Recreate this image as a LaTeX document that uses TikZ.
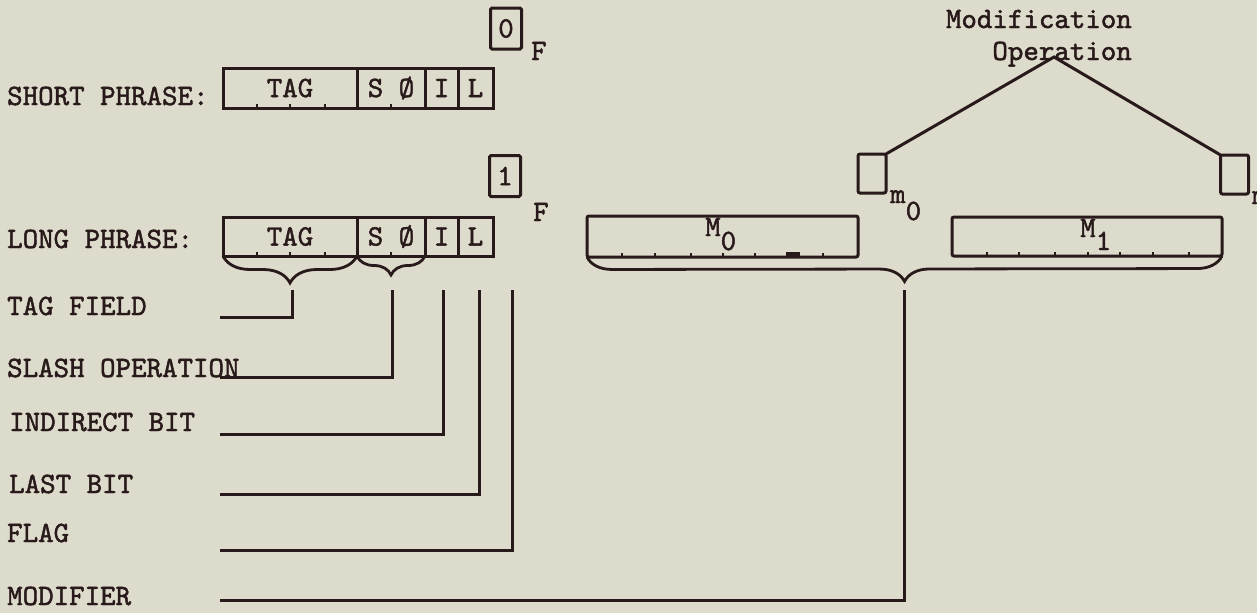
\documentclass[tikz,border=0pt]{standalone}
\usepackage{fontspec}
\usepackage{xcolor}
\usepackage{tikz}
\usetikzlibrary{positioning, decorations.pathreplacing}
\definecolor{paper}{RGB}{221,219,203}
\definecolor{ink}{RGB}{40,26,26}
\newfontfamily\twface{lmmono10-regular.otf}[FakeBold=1.6]
\newcommand{\twfont}{\fontsize{29.5}{32}\selectfont\twface}
\tikzset{
  field/.style={draw=ink, line width=3pt, minimum height=40pt, inner sep=0pt,
                outer sep=0pt, font=\twfont, text=ink},
  flagbox/.style={field, minimum width=31pt, minimum height=41pt, rounded corners=1.5pt},
  regbox/.style={field, minimum height=40pt, rounded corners=2pt},
  modbox/.style={field, minimum width=28pt, minimum height=39pt, rounded corners=2pt},
  rowlabel/.style={anchor=base west, inner sep=0pt, font=\twfont, text=ink},
  leader/.style={draw=ink, line width=3pt},
  fieldbrace/.style={draw=ink, line width=2.8pt, decorate,
                     decoration={brace, mirror, amplitude=#1}},
  tick/.style={draw=ink, line width=1.8pt}
}
\begin{document}
\begin{tikzpicture}[x=1pt, y=-1pt]
\useasboundingbox (0,0) rectangle (1257,613);
\fill[paper] (0,0) rectangle (1257,613);

% Short phrase
\node[rowlabel] (shortlab) at (7,105) {SHORT PHRASE:};
\node[field, minimum width=134pt, anchor=west] (stag) at (223,88) {TAG};
\node[field, minimum width=68pt, right=0pt of stag] (sslash) {S Ø};
\node[field, minimum width=33pt, right=0pt of sslash] (sind) {I};
\node[field, minimum width=35pt, right=0pt of sind] (slast) {L};
\node[flagbox] (sflag) at (506,28.5) {0};
\node[rowlabel] (sflagF) at (531,60) {F};
\foreach \tx in {257,290,325,391} \draw[tick] (\tx,108) -- ++(0,-4);

% Long phrase
\node[rowlabel] (longlab) at (7,248) {LONG PHRASE:};
\node[field, minimum width=134pt, minimum height=39pt, anchor=west] (ltag) at (223,236.5) {TAG};
\node[field, minimum width=68pt, minimum height=39pt, right=0pt of ltag] (lslash) {S Ø};
\node[field, minimum width=33pt, minimum height=39pt, right=0pt of lslash] (lind) {I};
\node[field, minimum width=35pt, minimum height=39pt, right=0pt of lind] (llast) {L};
\node[flagbox] (lflag) at (505,176) {1};
\node[rowlabel] (lflagF) at (533,221) {F};
\foreach \tx in {257,290,325,391} \draw[tick] (\tx,256) -- ++(0,-4);

% Modifier registers
\node[regbox, minimum width=271pt, minimum height=41pt] (mzeroreg) at (722.5,236.5) {};
\node[regbox, minimum width=270pt, minimum height=39pt] (monereg) at (1087,236.5) {};
\node[rowlabel] (mzerotext) at (705,236) {M\raisebox{-14pt}{0}};
\node[rowlabel] (monetext) at (1080,237) {M\raisebox{-13pt}{1}};
\foreach \tx in {622,655,691,723,755,823} \draw[tick] (\tx,257) -- ++(0,-4);
\fill[ink] (786,257) rectangle (800,252);
\foreach \tx in {987,1019,1055,1088,1120,1153,1189} \draw[tick] (\tx,256) -- ++(0,-4);

% Modification operation
\node[rowlabel, anchor=base east] (modline) at (1132,28) {Modification};
\node[rowlabel, anchor=base east] (opline) at (1132,60) {Operation};
\coordinate (apex) at (1054,57);
\node[modbox] (mzero) at (872,173.5) {};
\node[modbox] (mone) at (1234.5,174.5) {};
\node[rowlabel] (mzerosub) at (890,203) {m\raisebox{-17pt}{0}};
\node[rowlabel] (monesub) at (1252,204) {m\raisebox{-17pt}{1}};
\draw[leader] (mzero.north east) -- (apex) -- (mone.north west);

% Braces
\draw[fieldbrace=27pt] (ltag.south west) -- (ltag.south east);
\draw[fieldbrace=19pt] (lslash.south west) -- (lslash.south east);
\draw[fieldbrace=25pt] (mzeroreg.south west) -- (monereg.south east);

% Field names
\node[rowlabel] (tagfield) at (7,315) {TAG FIELD};
\node[rowlabel] (slashop) at (7,377) {SLASH OPERATION};
\node[rowlabel] (indbit) at (9,431) {INDIRECT BIT};
\node[rowlabel] (lastbit) at (9,493) {LAST BIT};
\node[rowlabel] (flagname) at (7,542) {FLAG};
\node[rowlabel] (modname) at (7,605) {MODIFIER};

% Leaders
\coordinate (tagtop) at (292,290);   \coordinate (tagend) at (220,317);
\coordinate (slashtop) at (392,290); \coordinate (slashend) at (220,377);
\coordinate (indtop) at (443,290);   \coordinate (indend) at (220,434);
\coordinate (lasttop) at (479,290);  \coordinate (lastend) at (220,494);
\coordinate (flagtop) at (512,290);  \coordinate (flagend) at (220,550);
\coordinate (modtop) at (904,290);   \coordinate (modend) at (220,600);
\draw[leader] (tagtop) |- (tagend);
\draw[leader] (slashtop) |- (slashend);
\draw[leader] (indtop) |- (indend);
\draw[leader] (lasttop) |- (lastend);
\draw[leader] (flagtop) |- (flagend);
\draw[leader] (modtop) |- (modend);

\end{tikzpicture}
\end{document}
